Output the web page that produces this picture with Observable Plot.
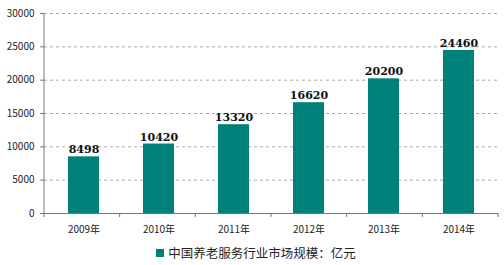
<!DOCTYPE html>
<html>
<head>
<meta charset="utf-8">
<script src="https://cdn.jsdelivr.net/npm/d3@7"></script>
<script src="https://cdn.jsdelivr.net/npm/@observablehq/plot@0.6"></script>
<style>
  body { margin: 0; background: #fff; }
  #chart { width: 504px; }
  .legend { height: 25px; display: flex; align-items: center; justify-content: center; font-family: "Noto Sans CJK SC", sans-serif; font-size: 12.5px; color: #222; padding-left: 8px; }
  .legend .sw { width: 8px; height: 8px; background: #00807A; margin-right: 4px; }
</style>
</head>
<body>
<div id="chart"></div>
<script>
const years = ["2009年", "2010年", "2011年", "2012年", "2013年", "2014年"];
const values = [8498, 10420, 13320, 16620, 20200, 24460];
const yTicks = [0, 5000, 10000, 15000, 20000, 25000, 30000];
const seriesName = "中国养老服务行业市场规模：亿元";

const data = years.map((y, i) => ({year: y, value: values[i]}));

const plot = Plot.plot({
  width: 504,
  height: 240,
  marginLeft: 44,
  marginRight: 6,
  marginTop: 13,
  marginBottom: 27,
  style: {fontFamily: "Noto Sans CJK SC, sans-serif", fontSize: "10px", color: "#222", background: "#fff"},
  x: {domain: years, paddingInner: 0.59, paddingOuter: 0.295, label: null},
  y: {domain: [0, 30000], ticks: yTicks, label: null},
  marks: [
    Plot.gridY(yTicks.filter(d => d > 0), {stroke: "#aaa", strokeOpacity: 1, strokeDasharray: "3,3"}),
    Plot.barY(data, {x: "year", y: "value", fill: "#00807A"}),
    Plot.text(data, {x: "year", y: "value", text: d => String(d.value), dy: -7, fontWeight: "bold", fontSize: 11, fontFamily: "DejaVu Serif, serif", fill: "#111"}),
    Plot.axisY({ticks: yTicks, tickSize: 4, tickPadding: 6, tickFormat: d => String(d), fontSize: 10, stroke: "#777"}),
    Plot.axisX({tickSize: 0, tickPadding: 12, fontSize: 10}),
    Plot.ruleY([0], {stroke: "#777"})
  ]
});

const xs = plot.scale("x");
const ys = plot.scale("y");
const svg = d3.select(plot);
const y0 = ys.apply(0);
const y1 = ys.apply(30000);
const left = xs.range[0], right = xs.range[1];
svg.append("line").attr("x1", left).attr("x2", left).attr("y1", y1).attr("y2", y0 + 4).attr("stroke", "#777");
const bw = (right - left) / years.length;
for (let i = 1; i <= years.length; i++) {
  const x = left + i * bw;
  svg.append("line").attr("x1", x).attr("x2", x).attr("y1", y0).attr("y2", y0 + 4).attr("stroke", "#777");
}

document.getElementById("chart").appendChild(plot);
const lg = document.createElement("div");
lg.className = "legend";
lg.innerHTML = `<span class="sw"></span><span>${seriesName}</span>`;
document.getElementById("chart").appendChild(lg);
</script>
</body>
</html>
